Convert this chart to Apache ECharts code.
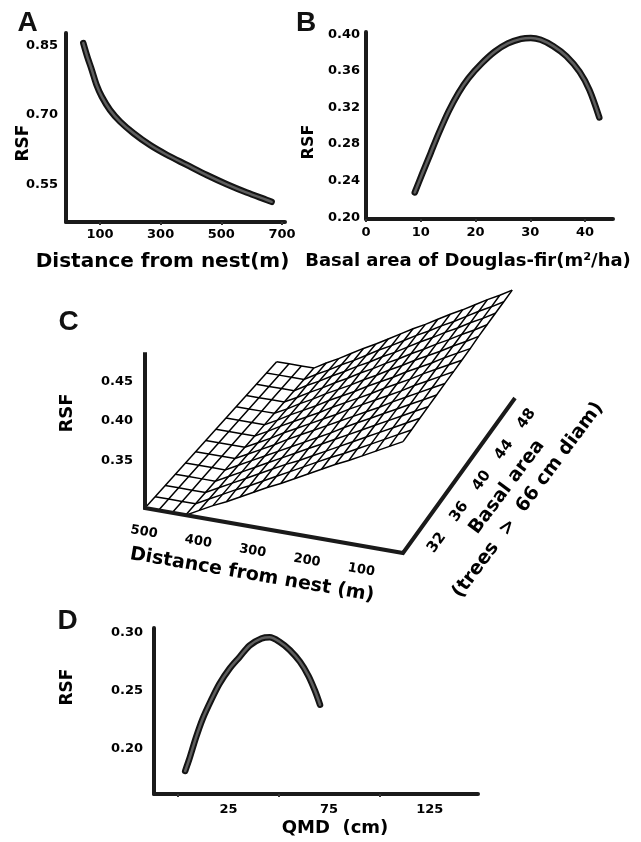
<!DOCTYPE html>
<html>
<head>
<meta charset="utf-8">
<script src="https://cdn.jsdelivr.net/npm/echarts@6/dist/echarts.min.js"></script>
<style>
  html, body { margin: 0; padding: 0; background: #fff; }
  #chart { width: 641px; height: 842px; }
</style>
</head>
<body>
<div id="chart"></div>
<script>
// ---- Panel A: RSF against distance from nest ----
const distanceA = [45, 58, 73, 89, 106, 133, 166, 210, 265, 320, 386, 452, 518, 584, 650, 666];
const rsfA = [0.856, 0.827, 0.798, 0.765, 0.740, 0.711, 0.686, 0.661, 0.635, 0.614, 0.592, 0.570, 0.550, 0.532, 0.516, 0.512];
const ticksAx = [100, 300, 500, 700];
const ticksAy = [0.55, 0.70, 0.85];

// ---- Panel B: RSF against basal area of Douglas-fir ----
const basalAreaB = [8.9, 10.3, 11.8, 13.3, 15.1, 16.9, 18.7, 21.1, 23.5, 25.9, 28.3, 30.1, 31.9, 34.2, 36.6, 39.0, 40.8, 42.6];
const rsfB = [0.227, 0.248, 0.270, 0.292, 0.316, 0.336, 0.352, 0.368, 0.381, 0.390, 0.395, 0.396, 0.394, 0.387, 0.376, 0.359, 0.339, 0.309];
const ticksBx = [0, 10, 20, 30, 40];
const ticksBy = [0.20, 0.24, 0.28, 0.32, 0.36, 0.40];

// ---- Panel D: RSF against QMD ----
const qmdD = [3.5, 5.5, 8.9, 12.2, 16.4, 20.5, 25.5, 30.5, 35.5, 41.4, 45.5, 50.5, 55.5, 60.5, 64.7, 68.0, 70.5];
const rsfD = [0.181, 0.191, 0.210, 0.226, 0.242, 0.256, 0.269, 0.279, 0.289, 0.295, 0.296, 0.292, 0.285, 0.275, 0.263, 0.250, 0.238];
const ticksDx = [25, 75, 125];
const tickMarksDx = [0, 50, 100];
const ticksDy = [0.20, 0.25, 0.30];

// ---- Panel C: RSF surface over distance x basal area ----
const distanceC = [500, 475, 450, 425, 400, 375, 350, 325, 300, 275, 250, 225, 200, 175, 150, 125, 100, 75, 50, 25];
const basalC = [29, 30.5, 32, 33.5, 35, 36.5, 38, 39.5, 41, 42.5, 44, 45.5, 47, 48.5];
const rsfC = [
  [0.29, 0.29, 0.29, 0.29, 0.299, 0.308, 0.316, 0.325, 0.334, 0.343, 0.351, 0.360, 0.369, 0.378, 0.387, 0.395, 0.404, 0.413, 0.422, 0.431],
  [0.29, 0.29, 0.29, 0.29, 0.299, 0.308, 0.317, 0.325, 0.334, 0.343, 0.352, 0.361, 0.370, 0.379, 0.387, 0.396, 0.405, 0.414, 0.423, 0.432],
  [0.29, 0.29, 0.29, 0.29, 0.299, 0.308, 0.317, 0.326, 0.335, 0.344, 0.352, 0.361, 0.370, 0.379, 0.388, 0.397, 0.406, 0.415, 0.424, 0.433],
  [0.29, 0.29, 0.29, 0.29, 0.299, 0.308, 0.317, 0.326, 0.335, 0.344, 0.353, 0.362, 0.371, 0.380, 0.389, 0.398, 0.407, 0.416, 0.425, 0.434],
  [0.29, 0.29, 0.29, 0.29, 0.299, 0.308, 0.317, 0.326, 0.335, 0.344, 0.353, 0.362, 0.372, 0.381, 0.390, 0.399, 0.408, 0.417, 0.426, 0.435],
  [0.29, 0.29, 0.29, 0.29, 0.299, 0.308, 0.317, 0.327, 0.336, 0.345, 0.354, 0.363, 0.372, 0.381, 0.390, 0.400, 0.409, 0.418, 0.427, 0.436],
  [0.29, 0.29, 0.29, 0.29, 0.299, 0.308, 0.318, 0.327, 0.336, 0.345, 0.354, 0.364, 0.373, 0.382, 0.391, 0.400, 0.410, 0.419, 0.428, 0.437],
  [0.29, 0.29, 0.29, 0.29, 0.299, 0.309, 0.318, 0.327, 0.336, 0.346, 0.355, 0.364, 0.373, 0.383, 0.392, 0.401, 0.411, 0.420, 0.429, 0.438],
  [0.29, 0.29, 0.29, 0.29, 0.299, 0.309, 0.318, 0.327, 0.337, 0.346, 0.355, 0.365, 0.374, 0.383, 0.393, 0.402, 0.411, 0.421, 0.430, 0.439],
  [0.29, 0.29, 0.29, 0.29, 0.299, 0.309, 0.318, 0.328, 0.337, 0.346, 0.356, 0.365, 0.375, 0.384, 0.394, 0.403, 0.412, 0.422, 0.431, 0.441],
  [0.29, 0.29, 0.29, 0.29, 0.299, 0.309, 0.318, 0.328, 0.337, 0.347, 0.356, 0.366, 0.375, 0.385, 0.394, 0.404, 0.413, 0.423, 0.432, 0.442],
  [0.29, 0.29, 0.29, 0.29, 0.300, 0.309, 0.319, 0.328, 0.338, 0.347, 0.357, 0.366, 0.376, 0.386, 0.395, 0.405, 0.414, 0.424, 0.433, 0.443],
  [0.29, 0.29, 0.29, 0.29, 0.300, 0.309, 0.319, 0.328, 0.338, 0.348, 0.357, 0.367, 0.377, 0.386, 0.396, 0.405, 0.415, 0.425, 0.434, 0.444],
  [0.29, 0.29, 0.29, 0.29, 0.300, 0.309, 0.319, 0.329, 0.338, 0.348, 0.358, 0.368, 0.377, 0.387, 0.397, 0.406, 0.416, 0.426, 0.435, 0.445]
];
const ticksCz = [0.35, 0.40, 0.45];
const ticksCdist = [500, 400, 300, 200, 100];
const ticksCbasal = [32, 36, 40, 44, 48];

// axis extents of the 3-D box (distance runs from 500 at the front-left to 25)
const boxDist = [500, 25];
const boxBasal = [29, 49];
const boxRsf = [0.29, 0.487];

// projection of the 3-D box onto the page: floor corners and vertical scale
const floor = { p00: [145, 508], p10: [403, 553], p11: [515, 398], p01: [280, 358] };
const zScale = 790;   // px per RSF unit at the front edge
const zShrink = 0.09; // perspective shrink toward the back

function project(d, b, r) {
  const t = (boxDist[0] - d) / (boxDist[0] - boxDist[1]);
  const s = (b - boxBasal[0]) / (boxBasal[1] - boxBasal[0]);
  const w00 = (1 - t) * (1 - s), w10 = t * (1 - s), w11 = t * s, w01 = (1 - t) * s;
  const x = w00 * floor.p00[0] + w10 * floor.p10[0] + w11 * floor.p11[0] + w01 * floor.p01[0];
  const y = w00 * floor.p00[1] + w10 * floor.p10[1] + w11 * floor.p11[1] + w01 * floor.p01[1];
  const h = zScale * (1 - zShrink * s);
  return [x, y - (r - boxRsf[0]) * h];
}

const FONT = 'DejaVu Sans';
const INK = '#111';
const tickLabel = { fontFamily: FONT, fontWeight: 'bold', fontSize: 13, color: '#000' };
const axisLineStyle = { show: true, onZero: false, lineStyle: { color: '#1a1a1a', width: 4 } };
const fmt2 = v => Number(v).toFixed(2);

function xAxisOf(grid, min, max, labels, ticks, name, nameOpts) {
  return {
    gridIndex: grid, type: 'value', min, max,
    axisLine: axisLineStyle,
    axisTick: { show: true, length: 3, customValues: ticks, lineStyle: { color: '#333', width: 2 } },
    axisLabel: Object.assign({ customValues: labels, margin: nameOpts.labelMargin }, tickLabel),
    splitLine: { show: false },
    name, nameLocation: 'middle', nameGap: nameOpts.gap, nameMoveOverlap: false,
    nameTextStyle: { fontFamily: FONT, fontWeight: 'bold', fontSize: nameOpts.size, color: '#000', padding: nameOpts.padding }
  };
}
function yAxisOf(grid, min, max, labels, nameOpts) {
  return {
    gridIndex: grid, type: 'value', min, max,
    axisLine: axisLineStyle,
    axisTick: { show: false },
    axisLabel: Object.assign({ customValues: labels, margin: nameOpts.labelMargin, formatter: fmt2 }, tickLabel),
    splitLine: { show: false },
    name: 'RSF', nameLocation: 'middle', nameRotate: 90, nameGap: nameOpts.gap, nameMoveOverlap: false,
    nameTextStyle: { fontFamily: FONT, fontWeight: 'bold', fontSize: nameOpts.size, color: '#000', padding: nameOpts.padding }
  };
}

// thick curve: dark outline plus a grey core
function curve(xi, yi, xs, ys) {
  const data = xs.map((x, i) => [x, ys[i]]);
  const base = { type: 'line', xAxisIndex: xi, yAxisIndex: yi, data, showSymbol: false, smooth: 0.3, silent: true };
  return [
    Object.assign({}, base, { lineStyle: { color: '#141414', width: 6.5, cap: 'round', join: 'round' } }),
    Object.assign({}, base, { lineStyle: { color: '#5e5e5e', width: 2.5, cap: 'round', join: 'round' } })
  ];
}

const meshItems = [];
basalC.forEach((b, j) => meshItems.push([0, j]));
distanceC.forEach((d, i) => meshItems.push([1, i]));

const boldText = (size) => `bold ${size}px "${FONT}"`;

const option = {
  animation: false,
  backgroundColor: '#fff',
  grid: [
    { left: 66, top: 33, width: 219, height: 189, outerBoundsMode: 'none' },
    { left: 366, top: 32, width: 247, height: 187, outerBoundsMode: 'none' },
    { left: 154, top: 628, width: 324, height: 166, outerBoundsMode: 'none' }
  ],
  xAxis: [
    xAxisOf(0, -12, 710, ticksAx, ticksAx, 'Distance from nest(m)', { gap: 30, size: 20, padding: [0, 26, 0, 0], labelMargin: 6 }),
    xAxisOf(1, 0, 45.1, ticksBx, ticksBx, 'Basal area of Douglas-fir(m\u00B2/ha)', { gap: 33, size: 18, padding: [0, 43, 0, 0], labelMargin: 7 }),
    xAxisOf(2, -12, 149, ticksDx, tickMarksDx, 'QMD  (cm)', { gap: 25, size: 18, padding: [0, 0, 0, 38], labelMargin: 9 })
  ],
  yAxis: [
    yAxisOf(0, 0.4682, 0.878, ticksAy, { gap: 34, size: 17, padding: [0, 31, 0, 0], labelMargin: 8 }),
    yAxisOf(1, 0.198, 0.4025, ticksBy, { gap: 49, size: 16, padding: [0, 33, 0, 0], labelMargin: 6 }),
    yAxisOf(2, 0.1612, 0.304, ticksDy, { gap: 78, size: 17, padding: [0, 0, 0, 48], labelMargin: 11 })
  ],
  series: [
    ...curve(0, 0, distanceA, rsfA),
    ...curve(1, 1, basalAreaB, rsfB),
    ...curve(2, 2, qmdD, rsfD),
    // surface wireframe: rows of equal basal area, then columns of equal distance
    {
      type: 'custom', coordinateSystem: 'none', silent: true, data: meshItems,
      renderItem(params, api) {
        const kind = api.value(0), k = api.value(1);
        const pts = kind === 0
          ? distanceC.map((d, i) => project(d, basalC[k], rsfC[k][i]))
          : basalC.map((b, j) => project(distanceC[k], b, rsfC[j][k]));
        return { type: 'polyline', shape: { points: pts }, style: { stroke: '#000', lineWidth: 1.5, fill: null } };
      }
    },
    // box axes: RSF, distance, basal area
    {
      type: 'custom', coordinateSystem: 'none', silent: true, data: [[0]],
      renderItem() {
        const pts = [
          project(boxDist[0], boxBasal[0], boxRsf[1]),
          project(boxDist[0], boxBasal[0], boxRsf[0]),
          project(boxDist[1], boxBasal[0], boxRsf[0]),
          project(boxDist[1], boxBasal[1], boxRsf[0])
        ];
        return { type: 'polyline', shape: { points: pts }, style: { stroke: '#1a1a1a', lineWidth: 4, fill: null, lineJoin: 'miter' } };
      }
    },
    // RSF tick labels
    {
      type: 'custom', coordinateSystem: 'none', silent: true, data: ticksCz.map(v => [v]),
      renderItem(params, api) {
        const v = api.value(0);
        const p = project(boxDist[0], boxBasal[0], v);
        return { type: 'text', x: p[0] - 12, y: p[1], style: { text: fmt2(v), font: boldText(13), fill: '#000', align: 'right', verticalAlign: 'middle' } };
      }
    },
    // distance tick labels
    {
      type: 'custom', coordinateSystem: 'none', silent: true, data: ticksCdist.map(v => [v]),
      renderItem(params, api) {
        const v = api.value(0);
        const p = project(v, boxBasal[0], boxRsf[0]);
        return { type: 'text', x: p[0] - 1, y: p[1] + 24, rotation: -0.17, style: { text: String(v), font: boldText(13), fill: '#000', align: 'center', verticalAlign: 'middle' } };
      }
    },
    // basal area tick labels
    {
      type: 'custom', coordinateSystem: 'none', silent: true, data: ticksCbasal.map(v => [v]),
      renderItem(params, api) {
        const v = api.value(0);
        const p = project(boxDist[1], v, boxRsf[0]);
        return { type: 'text', x: p[0] + 17, y: p[1] + 13, rotation: 0.944, style: { text: String(v), font: boldText(15), fill: '#000', align: 'center', verticalAlign: 'middle' } };
      }
    }
  ],
  graphic: {
    elements: [
      { type: 'text', x: 27.5, y: 23, style: { text: 'A', font: 'bold 28px "Liberation Sans"', fill: INK, align: 'center', verticalAlign: 'middle' } },
      { type: 'text', x: 306, y: 23, style: { text: 'B', font: 'bold 28px "Liberation Sans"', fill: INK, align: 'center', verticalAlign: 'middle' } },
      { type: 'text', x: 68.5, y: 322, style: { text: 'C', font: 'bold 28px "Liberation Sans"', fill: INK, align: 'center', verticalAlign: 'middle' } },
      { type: 'text', x: 67.5, y: 621, style: { text: 'D', font: 'bold 28px "Liberation Sans"', fill: INK, align: 'center', verticalAlign: 'middle' } },
      { type: 'text', x: 67, y: 413, rotation: Math.PI / 2, style: { text: 'RSF', font: boldText(18), fill: '#000', align: 'center', verticalAlign: 'middle' } },
      { type: 'text', x: 252, y: 575, rotation: -0.17, style: { text: 'Distance from nest (m)', font: boldText(19), fill: '#000', align: 'center', verticalAlign: 'middle' } },
      { type: 'text', x: 507, y: 487, rotation: 0.93, style: { text: 'Basal area', font: boldText(19), fill: '#000', align: 'center', verticalAlign: 'middle' } },
      { type: 'text', x: 528, y: 500, rotation: 0.93, style: { text: '(trees  >  66 cm diam)', font: boldText(19), fill: '#000', align: 'center', verticalAlign: 'middle' } }
    ]
  }
};

const chart = echarts.init(document.getElementById('chart'), null, { renderer: 'canvas' });
chart.setOption(option);
</script>
</body>
</html>
